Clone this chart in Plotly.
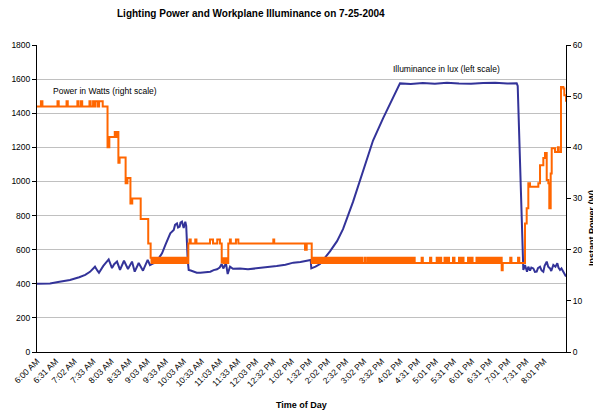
import plotly.graph_objects as go

# ---------------- data ----------------
tick_labels = ["6:00 AM", "6:31 AM", "7:02 AM", "7:33 AM", "8:03 AM", "8:33 AM", "9:03 AM",
               "9:33 AM", "10:03 AM", "10:33 AM", "11:03 AM", "11:33 AM", "12:03 PM", "12:32 PM",
               "1:02 PM", "1:32 PM", "2:02 PM", "2:32 PM", "3:02 PM", "3:32 PM", "4:02 PM",
               "4:31 PM", "5:01 PM", "5:31 PM", "6:01 PM", "6:31 PM", "7:01 PM", "7:31 PM", "8:01 PM"]

# Illuminance (lux, left scale); time in minutes after 6:00 AM
illum_t = [0, 10, 21.6, 35, 54.7, 70, 80, 87.9, 96.2, 100, 102.8, 110, 118.9, 124.4, 128, 132.7,
           137.7, 144.3, 150.9, 157.6, 162.1, 168.7, 175.8, 183.6, 187.4, 193, 199.1, 203, 207.4,
           212.8, 217, 221.1, 226.8, 229, 232.2, 234, 236.7, 238, 240.5, 243.3, 246.0, 247.5, 250.0,
           251.6, 255, 259.9, 265, 270.9, 280, 287.5, 293, 298.6, 303, 306.4, 309.0, 313.5, 316.3,
           320.2, 325, 336.8, 350, 364.4, 380, 397.6, 412, 425.2, 437, 447.4, 454.0, 455.0, 462,
           469.4, 474.9, 486.0, 497.7, 507.6, 524.2, 540.8, 557.4, 574.0, 585.6, 595.5, 602.1, 620,
           640, 660, 680, 700, 720, 740, 760, 780, 795.7, 797.4, 801.2, 806.7, 809.5, 812.8, 815,
           817.8, 820, 823.3, 826, 828.9, 831, 834.4, 837, 839.9, 842, 845.5, 848, 851.0, 853,
           856.5, 860, 863.1, 865, 867.6, 870, 873.0, 875, 877.5]
illum_lux = [400, 399, 402, 410, 422, 438, 452, 470, 500, 478, 465, 505, 543, 492, 515, 530,
             481, 535, 487, 530, 471, 522, 477, 540, 510, 520, 524, 555, 579,
             627, 665, 696, 715, 745, 754, 730, 735, 758, 764, 727, 764, 740, 540,
             481, 478, 471, 465, 465, 468, 471, 480, 485, 495, 516, 490, 520, 457,
             500, 488, 490, 485, 490, 495, 504, 512, 524, 528, 535, 540, 490, 500,
             516, 540, 590, 650, 720, 880, 1060, 1240, 1370, 1458, 1526, 1575, 1572,
             1577, 1573, 1578, 1574, 1573, 1577, 1578, 1574, 1575, 1560, 1126, 481, 510, 471, 500,
             477, 495, 490, 470, 471, 492, 500, 478, 470, 505, 530, 500, 490, 475,
             510, 500, 520, 495, 481, 490, 471, 460, 442]

# Lighting power (W, right scale); step series, time in minutes after 6:00 AM
power_t = [0, 6.5, 9, 34, 36, 49, 51, 67, 69, 73, 75, 87, 89, 93, 95, 97, 101, 103, 109, 117,
           120, 129, 131, 133, 135, 137, 147, 150, 155, 158, 172, 184.5,
           188.5, 190, 192, 193.5, 195, 197, 198.5, 200, 202, 203.5, 205, 207, 208.5, 210, 212,
           213.5, 215, 217, 218.5, 220, 222, 223.5, 225, 227, 228.5, 230, 232, 233.5, 235, 237,
           238.5, 240, 242, 243.5, 245, 247, 248.5, 250,
           251, 253, 255, 262.5, 264.5, 287, 292, 299, 303.5,
           306.4, 308, 309.5, 311, 312.5, 314, 315.5,
           317.3, 320, 321.5, 330, 334, 392, 393.5, 444.6, 447.4,
           455.7, 458, 460.5, 463, 465.5, 468, 470.5, 473, 475.5, 478, 480.5, 483, 485.5, 488,
           490.5, 493, 495.5, 498, 500.5, 503, 505.5, 508, 510.5, 513, 515.5, 518, 520.5, 523,
           525.5, 528, 530.5, 533, 535.5, 538, 540, 544, 545.5,
           549, 551.5, 554, 556.5, 559, 561.5, 564, 566.5, 569, 571.5, 574, 576.5, 579, 581.5,
           584, 586.5, 589, 591.5, 594, 596.5, 599, 601.5, 604, 606.5, 609, 611.5, 614, 616.5,
           619, 621.5, 624, 626.5, 638, 640, 652, 654,
           663, 665.5, 668, 670.5, 676, 678.5, 681, 683.5, 690, 692.5, 700, 702.5, 705, 707.5,
           715, 717.5, 720, 722.5,
           729, 731.5, 734, 736.5, 739, 741.5, 744, 746.5, 749, 751.5, 754, 756.5, 759, 761.5,
           764, 766.5, 769, 770.8, 772.5, 785, 787, 798, 800, 806.7,
           809.5, 812.3, 815, 817.8, 831.6, 834.4, 839.9, 842.7, 845.5, 848.2, 849.8, 852.1,
           853.8, 859.3, 864, 865.5, 869.2, 873, 874.7, 877.5]
power_w = [48, 49, 48, 49, 48, 49, 48, 49, 48, 49, 48, 49, 48, 49, 48, 49, 48, 49, 48, 40,
           42, 43, 42, 43, 37, 38, 33, 34, 29, 30, 26, 21.2,
           18.4, 17.4, 18.4, 17.4, 18.4, 17.4, 18.4, 17.4, 18.4, 17.4, 18.4, 17.4, 18.4, 17.4, 18.4,
           17.4, 18.4, 17.4, 18.4, 17.4, 18.4, 17.4, 18.4, 17.4, 18.4, 17.4, 18.4, 17.4, 18.4, 17.4,
           18.4, 17.4, 18.4, 17.4, 18.4, 17.4, 18.4, 17.4,
           21.2, 22, 21.2, 22, 21.2, 22, 21.2, 22, 21.2,
           17.5, 18.3, 17.4, 18.3, 17.4, 18.3, 17.4,
           21.2, 22, 21.2, 22, 21.2, 22, 21.2, 20, 21.2,
           17.4, 18.4, 17.4, 18.4, 17.4, 18.4, 17.4, 18.4, 17.4, 18.4, 17.4, 18.4, 17.4, 18.4,
           17.4, 18.4, 17.4, 18.4, 17.4, 18.4, 17.4, 18.4, 17.4, 18.4, 17.4, 18.4, 17.4, 18.4,
           17.4, 18.4, 17.4, 18.4, 17.4, 18.4, 17.4, 18.4, 17.4,
           18.4, 17.4, 18.4, 17.4, 18.4, 17.4, 18.4, 17.4, 18.4, 17.4, 18.4, 17.4, 18.4, 17.4,
           18.4, 17.4, 18.4, 17.4, 18.4, 17.4, 18.4, 17.4, 18.4, 17.4, 18.4, 17.4, 18.4, 17.4,
           18.4, 17.4, 18.4, 17.4, 18.4, 17.4, 18.4, 17.4,
           18.4, 17.4, 18.4, 17.4, 18.4, 17.4, 18.4, 17.4, 18.4, 17.4, 18.4, 17.4, 18.4, 17.4,
           18.4, 17.4, 18.4, 17.4,
           18.4, 17.4, 18.4, 17.4, 18.4, 17.4, 18.4, 17.4, 18.4, 17.4, 18.4, 17.4, 18.4, 17.4,
           18.4, 17.4, 18.4, 16, 17.4, 18.4, 17.4, 18.4, 17.4, 17.4,
           25.1, 28.1, 33, 32.3, 33, 36.5, 37.9, 38.9, 33.6, 33, 28.1, 34.9,
           39.8, 39.1, 40, 39.1, 51.8, 51.5, 50.2, 48.9]


def to_minutes(label):
    hm, ampm = label.split()
    h, m = (int(v) for v in hm.split(":"))
    if ampm == "PM" and h != 12:
        h += 12
    return (h - 6) * 60 + m


tick_vals = [to_minutes(s) for s in tick_labels]

FONT = "Arial, Liberation Sans, sans-serif"

fig = go.Figure()
fig.add_trace(go.Scatter(x=illum_t, y=illum_lux, mode="lines", name="Illuminance",
                         line=dict(color="#333399", width=2), yaxis="y"))
fig.add_trace(go.Scatter(x=power_t, y=power_w, mode="lines", name="Power",
                         line=dict(color="#FF6600", width=2, shape="hv"), yaxis="y2"))

fig.update_layout(
    width=593, height=414,
    margin=dict(l=37, r=27, t=45, b=62),
    paper_bgcolor="white", plot_bgcolor="white",
    showlegend=False,
    font=dict(family=FONT, size=9, color="black"),
    xaxis=dict(range=[0, 877.5], tickvals=tick_vals, ticktext=tick_labels, tickangle=-45,
               showline=True, linecolor="black", linewidth=1, ticks="", showgrid=False,
               zeroline=False, tickfont=dict(size=8.5), automargin=False),
    yaxis=dict(range=[0, 1800], dtick=200, showline=True, linecolor="black", linewidth=1,
               ticks="outside", ticklen=4, tickcolor="black", gridcolor="#c0c0c0",
               zeroline=False, tickfont=dict(size=8.5), automargin=False),
    yaxis2=dict(range=[0, 60], dtick=10, overlaying="y", side="right", showline=True,
                linecolor="black", linewidth=1, ticks="outside", ticklen=4, tickcolor="black",
                showgrid=False, zeroline=False, tickfont=dict(size=8.5), automargin=False),
    annotations=[
        dict(text="<b>Lighting Power and Workplane Illuminance on 7-25-2004</b>",
             xref="paper", yref="paper", x=(251 - 37) / 529, y=1 + (45 - 14) / 307,
             xanchor="center", yanchor="middle", showarrow=False, font=dict(size=10)),
        dict(text="<b>Time of Day</b>", xref="paper", yref="paper", x=0.5,
             y=-(405 - 352) / 307, xanchor="center", yanchor="middle", showarrow=False,
             font=dict(size=9)),
        dict(text="<b>Instant Power (W)</b>", xref="paper", yref="paper",
             x=1 + (592 - 566) / 529, y=(352 - 228) / 307, xanchor="center", yanchor="middle",
             textangle=-90, showarrow=False, font=dict(size=9)),
        dict(text="Power in Watts (right scale)", xref="paper", yref="paper",
             x=(51 - 37) / 529, y=(352 - 91) / 307, xanchor="left", yanchor="middle",
             showarrow=False, font=dict(size=8.5)),
        dict(text="Illuminance in lux (left scale)", xref="paper", yref="paper",
             x=(391 - 37) / 529, y=(352 - 69) / 307, xanchor="left", yanchor="middle",
             showarrow=False, font=dict(size=8.5)),
    ],
)

fig.write_html("out.html", config={"displayModeBar": False},
               post_script="document.body.style.margin='0';document.body.style.overflow='hidden';")
